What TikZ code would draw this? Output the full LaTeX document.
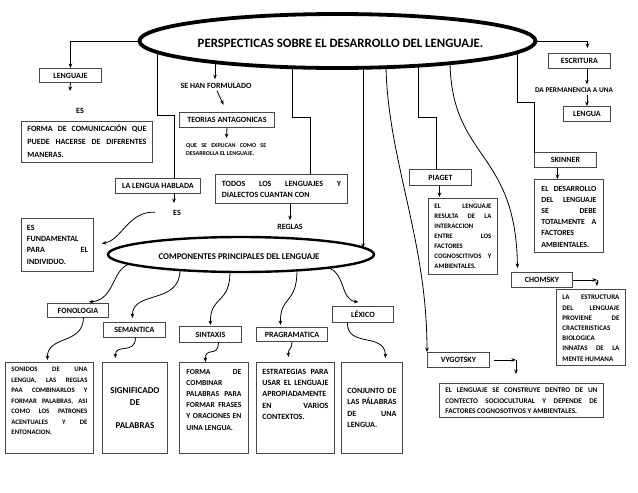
\documentclass[tikz,border=0pt]{standalone}
\usepackage{fontspec}
\setmainfont{Carlito}
\usetikzlibrary{arrows.meta,calc,shapes.geometric}
\newcommand\jst[1]{\makebox[\linewidth][s]{#1}}
\newcommand\fs[2]{\fontsize{#1}{#2}\selectfont}
\begin{document}
\begin{tikzpicture}[x=1pt,y=-1pt,
  arr/.style={-{Stealth[length=4.5pt,width=3.6pt]}, line width=0.8pt},
  ln/.style={line width=0.8pt},
  box/.style={draw=black!72, line width=0.9pt, fill=white, inner sep=0pt, anchor=north west, font=\fs{8}{9}\bfseries},
  tbox/.style={draw=black!72, line width=0.9pt, fill=white, anchor=north west, inner ysep=2pt, font=\bfseries},
  lbl/.style={inner sep=0pt, font=\fs{8}{9}\bfseries}]
\useasboundingbox (0,0) rectangle (638,493);

% points on the ellipse borders
\coordinate (m1) at (157,52);
\coordinate (m2) at (215,62);
\coordinate (m3) at (292,67);
\coordinate (m4) at (363,67.5);
\coordinate (m5) at (386,67);
\coordinate (m6) at (418,65.5);
\coordinate (m7) at (450,63);
\coordinate (m8) at (517,52);
\coordinate (q1) at (130,264);
\coordinate (q2) at (180,270);
\coordinate (q3) at (230,271.5);
\coordinate (q4) at (297,270);
\coordinate (q5) at (327,267.5);

% ellipses
\node[draw, ellipse, line width=3.8pt, minimum width=396pt, minimum height=54pt, inner sep=0pt] (main) at (337.5,41) {};
\node[font=\fs{12.8}{14}\bfseries] (title) at (340.5,43) {PERSPECTICAS SOBRE EL DESARROLLO DEL LENGUAJE.};
\node[draw, ellipse, line width=2.4pt, minimum width=266pt, minimum height=35pt, inner sep=0pt] (comp) at (241,254.5) {};
\node[font=\fs{8.8}{10}\bfseries] (comptxt) at (239,256.5) {COMPONENTES PRINCIPALES DEL LENGUAJE};

% single-line boxes
\node[box, minimum width=62pt, minimum height=14pt] (leng) at (39,68) {LENGUAJE};
\node[box, minimum width=95pt, minimum height=15pt] (teor) at (179,112) {TEORIAS ANTAGONICAS};
\node[box, minimum width=85pt, minimum height=15pt] (hab) at (115,178) {LA LENGUA HABLADA};
\node[box, minimum width=62pt, minimum height=15pt] (esc) at (548,53) {ESCRITURA};
\node[box, minimum width=47pt, minimum height=15pt] (lengua) at (563,106) {LENGUA};
\node[box, minimum width=62pt, minimum height=15pt] (skin) at (534,152) {SKINNER};
\node[box, minimum width=62pt, minimum height=16pt] (piag) at (409,169) {PIAGET};
\node[box, minimum width=61pt, minimum height=15pt] (chom) at (511,272) {CHOMSKY};
\node[box, minimum width=62pt, minimum height=15pt] (vyg) at (427,352) {VYGOTSKY};
\node[box, minimum width=61pt, minimum height=14pt] (fono) at (47,303) {FONOLOGIA};
\node[box, minimum width=62pt, minimum height=15pt] (sem) at (103,322) {SEMANTICA};
\node[box, minimum width=62pt, minimum height=16pt] (sint) at (179,326) {SINTAXIS};
\node[box, minimum width=71pt, minimum height=14pt] (prag) at (256,327) {PRAGRAMATICA};
\node[box, minimum width=61pt, minimum height=16pt] (lex) at (332,306) {LÉXICO};

% multi-line boxes
\node[tbox, inner xsep=6pt] (comm) at (21,121) {\parbox[c][37pt][t]{119pt}{\fs{8}{13}\rule{0pt}{8pt}\jst{FORMA DE COMUNICACIÓN QUE}\\ \jst{PUEDE HACERSE DE DIFERENTES}\\ MANERAS.}};
\node[tbox, inner xsep=5.5pt] (fund) at (21,218) {\parbox[c][49pt][t]{61pt}{\fs{8}{11.3}\rule{0pt}{9.7pt}ES\\ FUNDAMENTAL\\ \jst{PARA EL}\\ INDIVIDUO.}};
\node[tbox, inner xsep=6.5pt] (todos) at (215,174) {\parbox[c][25pt][t]{119pt}{\fs{8}{11}\rule{0pt}{9.7pt}\jst{TODOS LOS LENGUAJES Y}\\ DIALECTOS CUANTAN CON}};
\node[tbox, inner xsep=7pt] (sktext) at (534,179) {\parbox[c][69pt][t]{55pt}{\fs{7.8}{11.2}\rule{0pt}{9.7pt}\jst{EL DESARROLLO}\\ \jst{DEL LENGUAJE}\\ \jst{SE DEBE}\\ \jst{TOTALMENTE A}\\ FACTORES\\ AMBIENTALES.}};
\node[tbox, inner xsep=6pt] (pigtext) at (428,198) {\parbox[c][72pt][t]{57pt}{\fs{6.8}{10}\rule{0pt}{8.5pt}\jst{EL LENGUAJE}\\ \jst{RESULTA DE LA}\\ INTERACCION\\ \jst{ENTRE LOS}\\ FACTORES\\ \jst{COGNOSCITIVOS Y}\\ AMBIENTALES.}};
\node[tbox, inner xsep=6pt] (estruc) at (556,289) {\parbox[c][72pt][t]{57pt}{\fs{7}{10.2}\rule{0pt}{8.5pt}\jst{LA ESTRUCTURA}\\ \jst{DEL LENGUAJE}\\ \jst{PROVIENE DE}\\ CRACTERISTICAS\\ BIOLOGICA\\ \jst{INNATAS DE LA}\\ MENTE HUMANA}};
\node[tbox, inner xsep=6pt] (constr) at (439,383) {\parbox[c][30pt][t]{152pt}{\fs{7.2}{10.5}\rule{0pt}{7.5pt}\jst{EL LENGUAJE SE CONSTRUYE DENTRO DE UN}\\ \jst{CONTECTO SOCIOCULTURAL Y DEPENDE DE}\\ FACTORES COGNOSOTIVOS Y AMBIENTALES.}};
\node[tbox, inner xsep=6pt] (son) at (5,362) {\parbox[c][87pt][t]{76pt}{\fs{6.8}{10.5}\rule{0pt}{7.5pt}\jst{SONIDOS DE UNA}\\ \jst{LENGUA, LAS REGLAS}\\ \jst{PAA COMBINARLOS Y}\\ \jst{FORMAR PALABRAS, ASI}\\ \jst{COMO LOS PATRONES}\\ \jst{ACENTUALES Y DE}\\ ENTONACION.}};
\node[tbox, inner xsep=3pt] (sig) at (102,362) {\parbox[c][87pt][c]{59pt}{\centering\fs{9}{11.5}SIGNIFICADO\\ DE\\[11.5pt] PALABRAS}};
\node[tbox, inner xsep=7pt] (comb) at (179,362) {\parbox[c][87pt][t]{55pt}{\fs{7.6}{11.2}\rule{0pt}{9.7pt}\jst{FORMA DE}\\ COMBINAR\\ \jst{PALABRAS PARA}\\ \jst{FORMAR FRASES}\\ \jst{Y ORACIONES EN}\\ UINA LENGUA.}};
\node[tbox, inner xsep=6pt] (estrat) at (256,362) {\parbox[c][87pt][t]{66pt}{\fs{8}{11.3}\rule{0pt}{9.7pt}\jst{ESTRATEGIAS PARA}\\ \jst{USAR EL LENGUAJE}\\ APROPIADAMENTE\\ \jst{EN VARIOS}\\ CONTEXTOS.}};
\node[tbox, inner xsep=6pt] (conj) at (341,362) {\parbox[c][87pt][c]{49pt}{\fs{8}{11.3}\jst{CONJUNTO DE}\\ \jst{LAS PÁLABRAS}\\ \jst{DE UNA}\\ LENGUA.}};

% labels
\node[lbl] (es1) at (80,111) {ES};
\node[lbl] (sehan) at (216,86) {SE HAN FORMULADO};
\node[lbl, anchor=west] (expl) at (186,150) {\parbox{80pt}{\fs{6}{8}\jst{QUE SE EXPLICAN COMO SE}\\ DESARROLLA EL LENGUAJE.}};
\node[lbl] (es2) at (177,213) {ES};
\node[lbl] (reglas) at (290,227) {REGLAS};
\node[lbl, font=\fs{7.3}{8}\bfseries] (daperm) at (574,90) {DA PERMANENCIA A UNA};

% connectors: left part
\draw[arr] (main.west) -| (leng.north);
\coordinate (c1) at (70,91);
\draw[arr] (leng.south) -- (c1);
\draw[arr, shorten >=4pt] (m2) -- (m2 |- sehan.north);
\draw[arr, shorten >=8pt, shorten <=2pt] (sehan.south) -- (teor.north);
\coordinate (c2) at (226.5,138);
\draw[arr] (teor.south) -- (c2);
\coordinate (k1) at (174,115);
\draw[ln] (m1) |- (k1) -- (k1 |- hab.north);
\coordinate (c3) at (174,203);
\draw[arr] (k1 |- hab.south) -- (c3);
\draw[arr, shorten <=18pt, shorten >=8pt] (es2.west) .. controls (128,211) and (122,240) .. (fund.east);
\coordinate (k2) at (310,117);
\draw[ln] (m3) |- (k2) -- (k2 |- todos.north);
\draw[arr, shorten >=4pt] (reglas.north |- todos.south) -- (reglas.north);
\coordinate (k3) at (363,248);
\draw[arr] (m4) -- (k3);

% components branches
\draw[arr] (q1) .. controls (112,268) and (115,300) .. ([xshift=11pt,yshift=1pt]fono.north);
\draw[arr] (q2) .. controls (180,305) and (132,290) .. ([xshift=-2pt,yshift=4pt]sem.north);
\draw[arr] (q3) .. controls (230,305) and (210,295) .. ([yshift=1pt]sint.north);
\draw[arr] (q4) .. controls (297,305) and (280,295) .. ([xshift=-11.5pt,yshift=2pt]prag.north);
\draw[arr] (q5) .. controls (346,272) and (340,300) .. ([xshift=-4.5pt,yshift=4pt]lex.north);

\draw[arr] ([xshift=5.5pt]fono.south) .. controls (83,345) and (47,335) .. ([xshift=-2pt,yshift=2pt]son.north);
\draw[arr] ([xshift=1pt]sem.south) .. controls (135,355) and (115,343) .. ([xshift=-19.5pt,yshift=4pt]sig.north);
\draw[arr] ([xshift=8pt]sint.south) .. controls (218,358) and (205,346) .. ([xshift=-8.5pt]comb.north);
\draw[arr] (prag.south) .. controls (292,350) and (288,348) .. ([xshift=-7pt,yshift=5pt]estrat.north);
\draw[arr] ([xshift=-15.5pt]lex.south) .. controls (347,348) and (385,332) .. ([xshift=13.5pt,yshift=4pt]conj.north);

% right part
\draw[arr, shorten >=5pt] (main.east) -| ([xshift=8pt]esc.north);
\draw[arr, shorten >=3pt] (lengua.north |- esc.south) -- (lengua.north |- daperm.north);
\draw[arr, shorten <=2pt] (daperm.south -| lengua.north) -- (lengua.north);
\coordinate (k4) at (534,102);
\draw[ln] (m8) |- (k4) -- (skin.north west);
\coordinate (s1) at ([xshift=-8pt]skin.south);
\draw[arr] (s1) -- (s1 |- sktext.north);
\coordinate (k5) at (436,117);
\draw[ln] (m6) |- (k5) -- (k5 |- piag.north);
\coordinate (p1) at ([xshift=-1pt]piag.south);
\draw[arr, shorten >=1pt] (p1) -- (p1 |- pigtext.north);
\draw[arr] (m7) .. controls (452,160) and (516,150) .. ([xshift=-24.5pt,yshift=4pt]chom.north);
\coordinate (k6) at ($(chom.east)+(24,0)$);
\draw[arr] (chom.east) -- (k6);
\draw[arr, shorten >=3pt] (k6) -- (k6 |- estruc.north);
\draw[arr] (m5) .. controls (388,160) and (427,240) .. (vyg.north west);
\coordinate (k7) at ($(vyg.east)+(26,0)$);
\draw[arr, shorten <=4pt] (vyg.east) -- (k7);
\draw[arr, shorten >=9pt] (k7) -- (k7 |- constr.north);
\end{tikzpicture}
\end{document}
